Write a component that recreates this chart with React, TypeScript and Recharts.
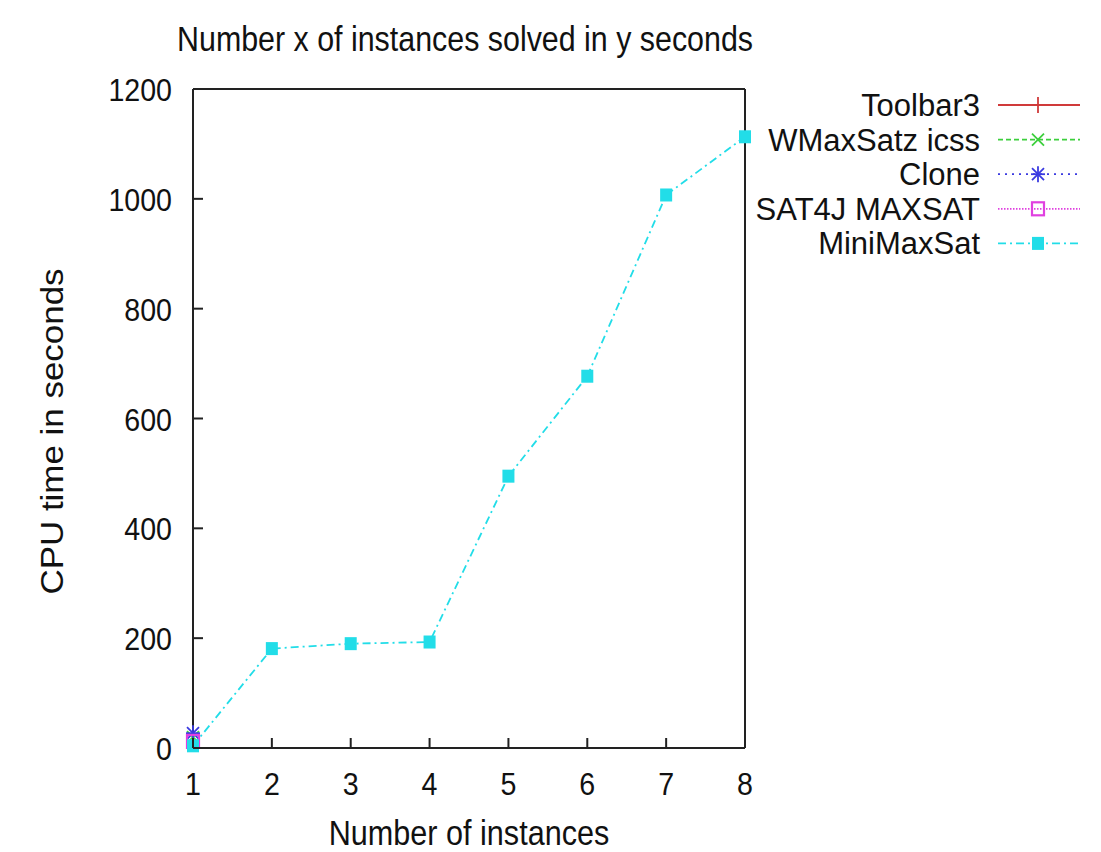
import { LineChart, Line, XAxis, YAxis, Legend } from "recharts";

// x positions (number of instances solved)
const instances = [1, 2, 3, 4, 5, 6, 7, 8];
const xTicks = [1, 2, 3, 4, 5, 6, 7, 8];
const yTicks = [0, 200, 400, 600, 800, 1000, 1200];

// CPU time in seconds per solver (only the first instance for most of them)
const toolbar3 = [8];
const wmaxsatzIcss = [20];
const clone = [27];
const sat4jMaxsat = [12];
const miniMaxSat = [4, 181, 190, 193, 495, 677, 1007, 1113];

const toPoints = (ys: number[]) => ys.map((y, i) => ({ x: instances[i], y }));

type MarkerKind = "plus" | "cross" | "star" | "box" | "filledBox";

const series: { name: string; data: { x: number; y: number }[]; color: string; dash?: string; marker: MarkerKind }[] = [
  { name: "Toolbar3", data: toPoints(toolbar3), color: "#d03a3a", marker: "plus" },
  { name: "WMaxSatz icss", data: toPoints(wmaxsatzIcss), color: "#3ccf3c", dash: "5 3", marker: "cross" },
  { name: "Clone", data: toPoints(clone), color: "#3a3ae0", dash: "2 5", marker: "star" },
  { name: "SAT4J MAXSAT", data: toPoints(sat4jMaxsat), color: "#e040e0", dash: "1.5 1.5", marker: "box" },
  { name: "MiniMaxSat", data: toPoints(miniMaxSat), color: "#22dde8", dash: "8 4 2 4", marker: "filledBox" },
];

const FONT = "'Liberation Sans', Arial, sans-serif";
const INK = "#222";

function Marker({ kind, cx, cy, color }: { kind: MarkerKind; cx: number; cy: number; color: string }) {
  if (cx == null || cy == null) return null;
  switch (kind) {
    case "plus":
      return (
        <g stroke={color} strokeWidth={1.8}>
          <line x1={cx - 7} y1={cy} x2={cx + 7} y2={cy} />
          <line x1={cx} y1={cy - 8} x2={cx} y2={cy + 8} />
        </g>
      );
    case "cross":
      return (
        <g stroke={color} strokeWidth={1.8}>
          <line x1={cx - 6} y1={cy - 6} x2={cx + 6} y2={cy + 6} />
          <line x1={cx - 6} y1={cy + 6} x2={cx + 6} y2={cy - 6} />
        </g>
      );
    case "star":
      return (
        <g stroke={color} strokeWidth={1.8}>
          <line x1={cx - 7} y1={cy} x2={cx + 7} y2={cy} />
          <line x1={cx} y1={cy - 8} x2={cx} y2={cy + 8} />
          <line x1={cx - 6} y1={cy - 6} x2={cx + 6} y2={cy + 6} />
          <line x1={cx - 6} y1={cy + 6} x2={cx + 6} y2={cy - 6} />
        </g>
      );
    case "box":
      return <rect x={cx - 6} y={cy - 6.5} width={12} height={13} fill="none" stroke={color} strokeWidth={2.2} />;
    default:
      return <rect x={cx - 6} y={cy - 6.5} width={12} height={13} fill={color} />;
  }
}

function BottomTick(p: any) {
  return (
    <g>
      <line x1={p.x} y1={p.y} x2={p.x} y2={p.y - 10} stroke={INK} strokeWidth={2} />
      <text transform={`translate(${p.x},${p.y + 47}) scale(1,1.1)`} textAnchor="middle" fontSize={28.6} fontFamily={FONT} fill="#111">
        {p.payload.value}
      </text>
    </g>
  );
}

function TopTick(p: any) {
  return <line x1={p.x} y1={p.y} x2={p.x} y2={p.y + 10} stroke={INK} strokeWidth={2} />;
}

function LeftTick(p: any) {
  return (
    <g>
      <line x1={p.x} y1={p.y} x2={p.x + 10} y2={p.y} stroke={INK} strokeWidth={2} />
      <text transform={`translate(${p.x - 21},${p.y + 12}) scale(1,1.1)`} textAnchor="end" fontSize={28.6} fontFamily={FONT} fill="#111">
        {p.payload.value}
      </text>
    </g>
  );
}

function RightTick(p: any) {
  return <line x1={p.x} y1={p.y} x2={p.x - 10} y2={p.y} stroke={INK} strokeWidth={2} />;
}

function LegendBox() {
  return (
    <svg width={356} height={190} style={{ display: "block" }}>
      {series.map((s, i) => {
        const cy = 25 + i * 34.6;
        return (
          <g key={s.name}>
            <text transform={`translate(235,${cy + 11}) scale(1,1.02)`} textAnchor="end" fontSize={31} fontFamily={FONT} fill="#111">
              {s.name}
            </text>
            <line x1={253} y1={cy} x2={335} y2={cy} stroke={s.color} strokeWidth={1.8} strokeDasharray={s.dash} />
            <Marker kind={s.marker} cx={293} cy={cy} color={s.color} />
          </g>
        );
      })}
    </svg>
  );
}

export default function App() {
  return (
    <div style={{ position: "absolute", left: 0, top: 0, background: "#fff" }}>
      <LineChart width={1101} height={852} margin={{ top: 79, right: 346, bottom: 44, left: 113 }}>
        <XAxis
          dataKey="x"
          type="number"
          domain={[1, 8]}
          ticks={xTicks}
          height={60}
          tickSize={0}
          tickMargin={0}
          axisLine={{ stroke: INK, strokeWidth: 2 }}
          tick={(p: any) => <BottomTick {...p} />}
          label={{
            content: (l: any) => (
              <text
                transform={`translate(${l.viewBox.x + l.viewBox.width / 2},${l.viewBox.y + 97}) scale(1,1.15)`}
                textAnchor="middle"
                fontSize={30.6}
                fontFamily={FONT}
                fill="#111"
              >
                Number of instances
              </text>
            ),
          }}
        />
        <XAxis
          xAxisId="top"
          orientation="top"
          dataKey="x"
          type="number"
          domain={[1, 8]}
          ticks={xTicks}
          height={10}
          tickSize={0}
          tickMargin={0}
          axisLine={{ stroke: INK, strokeWidth: 2 }}
          tick={(p: any) => <TopTick {...p} />}
          label={{
            content: (l: any) => (
              <text
                transform={`translate(${l.viewBox.x + l.viewBox.width / 2 - 4},51) scale(1,1.13)`}
                textAnchor="middle"
                fontSize={30.4}
                fontFamily={FONT}
                fill="#111"
              >
                Number x of instances solved in y seconds
              </text>
            ),
          }}
        />
        <YAxis
          dataKey="y"
          type="number"
          domain={[0, 1200]}
          ticks={yTicks}
          width={80}
          tickSize={0}
          tickMargin={0}
          axisLine={{ stroke: INK, strokeWidth: 2 }}
          tick={(p: any) => <LeftTick {...p} />}
          label={{
            content: (l: any) => (
              <text
                transform={`translate(${l.viewBox.x - 50},${l.viewBox.y + l.viewBox.height / 2 + 13}) rotate(-90) scale(1.12,1)`}
                textAnchor="middle"
                fontSize={31.2}
                fontFamily={FONT}
                fill="#111"
              >
                CPU time in seconds
              </text>
            ),
          }}
        />
        <YAxis
          yAxisId="right"
          orientation="right"
          type="number"
          domain={[0, 1200]}
          ticks={yTicks}
          width={10}
          tickSize={0}
          tickMargin={0}
          axisLine={{ stroke: INK, strokeWidth: 2 }}
          tick={(p: any) => <RightTick {...p} />}
        />
        <Legend
          layout="vertical"
          align="center"
          verticalAlign="middle"
          wrapperStyle={{ position: "absolute", left: 745, top: 80, width: 356, height: 190 }}
          content={() => <LegendBox />}
        />
        {series.map((s) => (
          <Line
            key={s.name}
            name={s.name}
            data={s.data}
            dataKey="y"
            stroke={s.color}
            strokeWidth={1.8}
            strokeDasharray={s.dash}
            isAnimationActive={false}
            dot={(p: any) => <Marker key={`${s.name}-${p.index}`} kind={s.marker} cx={p.cx} cy={p.cy} color={s.color} />}
            activeDot={false}
          />
        ))}
      </LineChart>
    </div>
  );
}
